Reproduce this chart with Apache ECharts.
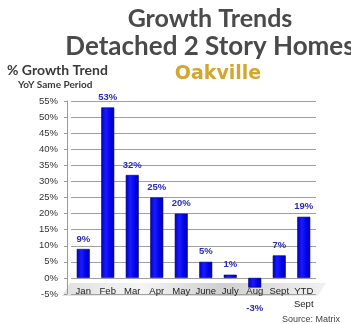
<!DOCTYPE html>
<html><head><meta charset="utf-8">
<script src="https://cdn.jsdelivr.net/npm/echarts@6/dist/echarts.min.js"></script>
<style>html,body{margin:0;padding:0;background:#fff}#c{width:351px;height:324px}</style>
</head><body><div id="c"></div>
<script>
const categories = ['Jan','Feb','Mar','Apr','May','June','July','Aug','Sept','YTD\nSept'];
const growth = [9, 53, 32, 25, 20, 5, 1, -3, 7, 19];
const yTicks = {min: -5, max: 55, interval: 5};

const chart = echarts.init(document.getElementById('c'), null, {renderer: 'canvas'});
const barColor = new echarts.graphic.LinearGradient(0, 0, 1, 0, [
  {offset: 0, color: '#0000c8'},
  {offset: 0.35, color: '#1a1aff'},
  {offset: 0.75, color: '#0000e6'},
  {offset: 1, color: '#00009a'}
]);
chart.setOption({
  animation: false,
  title: [
    {text: 'Growth Trends', left: 205, top: 1, textAlign: 'center',
     textStyle: {fontFamily: 'Lato', fontWeight: 'bold', fontSize: 25, color: '#4a4a4a'}},
    {text: 'Detached 2 Story Homes', left: 205, top: 29, textAlign: 'center',
     textStyle: {fontFamily: 'Lato', fontWeight: 'bold', fontSize: 26, color: '#4a4a4a'}},
    {text: 'Oakville', left: 213, top: 60, textAlign: 'center',
     textStyle: {fontFamily: 'DejaVu Sans', fontWeight: 'bold', fontSize: 19, color: '#d4a62c'}},
    {text: '% Growth Trend', left: 2, top: 58,
     textStyle: {fontFamily: 'Lato', fontWeight: 'bold', fontSize: 14, color: '#3a3a3a'}},
    {text: 'YoY Same Period', left: 13, top: 75,
     textStyle: {fontFamily: 'Lato', fontWeight: 'bold', fontSize: 10, color: '#3a3a3a'}},
    {text: 'Source: Matrix', right: 6, top: 310,
     textStyle: {fontFamily: 'Liberation Sans', fontWeight: 'normal', fontSize: 9, color: '#444'}}
  ],
  graphic: [{
    type: 'polygon', z: -1, silent: true,
    shape: {points: [[62, 296], [70, 283], [326, 283], [318, 296]]},
    style: {fill: new echarts.graphic.LinearGradient(0, 0, 1, 0, [
      {offset: 0, color: '#d8d8d8'}, {offset: 0.3, color: '#f2f2f2'},
      {offset: 0.6, color: '#c4c4c4'}, {offset: 1, color: '#eeeeee'}]), opacity: 0.8}
  }],
  grid: {left: 71, right: 35, top: 101, bottom: 30, containLabel: false},
  xAxis: {
    type: 'category', data: categories,
    axisLine: {show: false, onZero: false},
    axisTick: {show: false},
    axisLabel: {fontFamily: 'Liberation Sans', fontSize: 9.5, color: '#222', margin: -9, lineHeight: 13, interval: 0}
  },
  yAxis: {
    type: 'value', min: yTicks.min, max: yTicks.max, interval: yTicks.interval, offset: 4,
    axisLine: {show: true, lineStyle: {color: '#999'}},
    axisTick: {show: true, length: 3, lineStyle: {color: '#999'}},
    axisLabel: {formatter: '{value}%', fontFamily: 'Liberation Sans', fontSize: 9.5, color: '#333', margin: 9},
    splitLine: {show: true, lineStyle: {color: '#a0a0a0', width: 1}}
  },
  series: [{
    type: 'bar', barWidth: 13,
    data: growth.map(v => v < 0 ? {value: v, label: {position: 'inside', offset: [0, 26]}} : v),
    itemStyle: {color: barColor, borderColor: '#00006a', borderWidth: 0.6},
    label: {show: true, position: 'top', distance: 5, formatter: p => p.value + '%',
      fontFamily: 'Liberation Sans', fontWeight: 'bold', fontSize: 9.5, color: '#2a2ab8'}
  }]
});
</script></body></html>
